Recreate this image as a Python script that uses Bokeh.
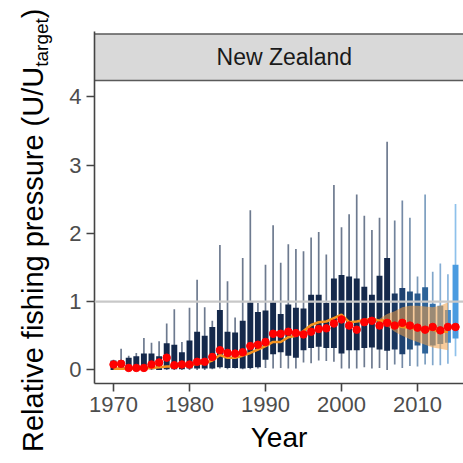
from bokeh.plotting import figure
from bokeh.layouts import row
from bokeh.models import Range1d, FixedTicker, Span, Label, ColumnDataSource, Div, InlineStyleSheet
from bokeh.embed import file_html
from bokeh.resources import INLINE

# ---------------- data ----------------
years = list(range(1970, 2016))

q3 = [0.14, 0.14, 0.18, 0.20, 0.24, 0.24, 0.20, 0.39, 0.37, 0.26,
      0.43, 0.56, 0.50, 0.63, 0.88, 0.56, 0.55, 0.72, 0.99, 0.85,
      0.87, 0.99, 0.82, 0.96, 0.91, 0.90, 1.10, 1.10, 0.98, 1.34,
      1.39, 1.37, 1.34, 1.22, 1.10, 1.38, 1.64, 1.12, 1.20, 1.15,
      1.12, 1.21, 0.97, 0.94, 0.88, 1.54]

q1 = [0.00, 0.00, 0.00, 0.00, 0.00, 0.01, 0.00, 0.01, 0.01, 0.01,
      0.02, 0.02, 0.02, 0.02, 0.04, 0.03, 0.03, 0.02, 0.03, 0.04,
      0.15, 0.23, 0.26, 0.21, 0.18, 0.29, 0.32, 0.34, 0.32, 0.32,
      0.24, 0.29, 0.29, 0.32, 0.33, 0.30, 0.28, 0.30, 0.23, 0.30,
      0.36, 0.24, 0.36, 0.38, 0.40, 0.46]

whisker_hi = [0.15, 0.31, 0.21, 0.25, 0.47, 0.40, 0.42, 0.68, 0.89, 0.41,
              0.91, 1.32, 0.92, 0.72, 1.83, 1.30, 0.77, 1.64, 2.34, 0.98,
              1.54, 2.12, 1.57, 1.84, 1.77, 1.74, 1.94, 2.02, 1.69, 2.71,
              2.09, 2.28, 2.57, 2.26, 2.05, 2.23, 3.34, 2.19, 2.48, 2.23,
              1.37, 2.57, 1.44, 1.56, 1.40, 2.43]

whisker_lo = [0.00, 0.00, 0.00, 0.00, 0.00, 0.00, 0.00, 0.00, 0.00, 0.00,
              0.00, 0.00, 0.00, 0.01, 0.02, 0.01, 0.02, 0.01, 0.01, 0.02,
              0.03, 0.02, 0.03, 0.02, 0.02, 0.11, 0.10, 0.14, 0.13, 0.12,
              0.02, 0.02, 0.02, 0.04, 0.02, 0.03, 0.00, 0.08, 0.03, 0.06,
              0.05, 0.08, 0.07, 0.07, 0.09, 0.20]

red_points = [0.08, 0.09, 0.03, 0.03, 0.03, 0.08, 0.11, 0.18, 0.07, 0.08,
              0.08, 0.12, 0.12, 0.19, 0.29, 0.25, 0.24, 0.26, 0.35, 0.37,
              0.41, 0.53, 0.53, 0.56, 0.54, 0.52, 0.56, 0.60, 0.61, 0.68,
              0.74, 0.65, 0.59, 0.70, 0.72, 0.65, 0.69, 0.65, 0.69, 0.65,
              0.62, 0.59, 0.63, 0.58, 0.63, 0.63]

line_years = list(range(1970, 2015))
orange_line = [0.02, 0.02, 0.02, 0.03, 0.03, 0.03, 0.04, 0.05, 0.05, 0.06,
               0.07, 0.09, 0.10, 0.14, 0.22, 0.18, 0.18, 0.21, 0.25, 0.30,
               0.35, 0.41, 0.41, 0.48, 0.50, 0.57, 0.66, 0.70, 0.71, 0.76,
               0.81, 0.70, 0.71, 0.73, 0.75, 0.72, 0.73, 0.66, 0.63, 0.62,
               0.60, 0.59, 0.59, 0.56, 0.56]

ribbon_years = list(range(2005, 2015))
ribbon_lo = [0.71, 0.64, 0.56, 0.50, 0.45, 0.41, 0.37, 0.33, 0.31, 0.29]
ribbon_hi = [0.75, 0.82, 0.86, 0.92, 0.94, 0.94, 0.93, 0.92, 0.94, 0.99]

x_ticks = [1970, 1980, 1990, 2000, 2010]
y_ticks = [0, 1, 2, 3, 4]
panel_title = "New Zealand"
x_label = "Year"
y_label_main = "Relative fishing pressure (U/U"
y_label_sub = "target"
y_label_end = ")"

# ---------------- styles ----------------
navy = "#15294b"
late_colors = ["#1a3760", "#1f4270", "#24507f", "#2a5b8e", "#2d6399",
               "#3470aa", "#3a7cba", "#4188c9", "#4a9be0"]
box_colors = [navy] * (len(years) - len(late_colors)) + late_colors


def blend(c, f):
    r, g, b = int(c[1:3], 16), int(c[3:5], 16), int(c[5:7], 16)
    r, g, b = [int(v + (255 - v) * f) for v in (r, g, b)]
    return "#%02x%02x%02x" % (r, g, b)


whisker_colors = [blend(c, 0.38) for c in box_colors]

FONT = "Liberation Sans"

src = ColumnDataSource(dict(year=years, q1=q1, q3=q3, lo=whisker_lo, hi=whisker_hi,
                            red=red_points, color=box_colors, wcolor=whisker_colors))

H = 463
LAB_W = 60                      # width of the y-title column
W = 463 - LAB_W
LEFT, TOP, BOTTOM = 94 - LAB_W, 31, 80
x0, x1 = 1967.5, 2016.05
y0, y1 = -0.198, 4.956
strip_bottom, strip_top = 4.239, 4.92

# ---------------- y-axis title (with subscript), rotated HTML text ----------------
ylab_css = InlineStyleSheet(css="""
:host { overflow: visible; }
.yl { position: relative; left: 0px; top: 0px; white-space: nowrap; display: block;
      font-family: 'Liberation Sans', Arial, sans-serif; font-size: 29px; line-height: 29px;
      color: #000000; transform-origin: 0 0;
      transform: translate(19px, 452px) rotate(-90deg); }
.yl .sub { font-size: 19px; position: relative; top: 5px; }
""")
ylab = Div(text=f'<div class="yl">{y_label_main}<span class="sub">{y_label_sub}</span>{y_label_end}</div>',
           width=LAB_W, height=H, stylesheets=[ylab_css], margin=0)

# ---------------- main panel ----------------
p = figure(width=W, height=H, x_range=Range1d(x0, x1), y_range=Range1d(y0, y1),
           output_backend="svg", toolbar_location=None,
           min_border_left=LEFT, min_border_right=0, min_border_top=TOP, min_border_bottom=BOTTOM)
p.outline_line_color = None
p.grid.visible = False
p.background_fill_color = "white"
p.border_fill_color = "white"

# facet strip
p.quad(left=[x0 - 5], right=[x1 + 5], bottom=[strip_bottom], top=[strip_top],
       fill_color="#d9d9d9", line_color="#5a5a5a", line_width=1.6)
p.add_layout(Label(x=(x0 + x1) / 2 + 0.7, y=(strip_bottom + strip_top) / 2, text=panel_title,
                   text_align="center", text_baseline="middle", text_font=FONT,
                   text_font_size="23px", text_color="#1a1a1a"))

# boxplots
p.segment(x0="year", y0="lo", x1="year", y1="hi", source=src, line_color="wcolor", line_width=1.7)
p.vbar(x="year", width=0.78, bottom="q1", top="q3", source=src, fill_color="color", line_color=None)

# ribbon + line + points
p.varea(x=ribbon_years, y1=ribbon_lo, y2=ribbon_hi, fill_color="#f0a048", fill_alpha=0.55)
p.line(line_years, orange_line, line_color="#f5921e", line_width=2.6)
p.scatter(x="year", y="red", source=src, size=7.5, fill_color="#ff0000", line_color="#ff0000")

p.add_layout(Span(location=1, dimension="width", line_color="#c8c8c8", line_width=2.2))

# axes
for ax in (p.xaxis, p.yaxis):
    ax.axis_line_color = "#444444"
    ax.axis_line_width = 1.6
    ax.major_tick_line_color = "#444444"
    ax.major_tick_line_width = 1.6
    ax.major_tick_out = 8
    ax.major_tick_in = 0
    ax.minor_tick_line_color = None
    ax.major_label_text_font = FONT
    ax.major_label_text_font_size = "22px"
    ax.major_label_text_color = "#4d4d4d"
    ax.major_label_standoff = 5

p.xaxis.ticker = FixedTicker(ticks=x_ticks)
p.yaxis.ticker = FixedTicker(ticks=y_ticks)
p.xaxis.axis_label = x_label
p.xaxis.axis_label_text_font = FONT
p.xaxis.axis_label_text_font_size = "28px"
p.xaxis.axis_label_text_font_style = "normal"
p.xaxis.axis_label_text_color = "#000000"
p.xaxis.axis_label_standoff = 7

layout = row(ylab, p, spacing=0)
open("out.html", "w").write(file_html(layout, INLINE))
